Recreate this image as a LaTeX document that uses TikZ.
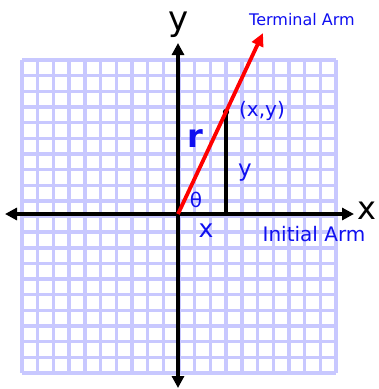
\documentclass[tikz,border=0pt]{standalone}
\usepackage{fontspec}
\setmainfont{DejaVu Sans}
\usetikzlibrary{arrows.meta}
\definecolor{gridblue}{RGB}{200,200,255}
\definecolor{labelblue}{RGB}{15,15,240}
\begin{document}
\begin{tikzpicture}[x=1pt,y=-1pt,
  axis/.style={line width=3.5pt,-{Triangle[length=12pt,width=12pt]}},
  arm/.style={line width=3.8pt,red,-{Triangle[length=13pt,width=12pt]}},
  lbl/.style={text=labelblue,inner sep=0pt}]
\useasboundingbox (0,0) rectangle (379,389);
% grid
\foreach \i in {0,...,20}{
  \draw[gridblue,line width=3.4pt] ({22+\i*15.7},60) -- ({22+\i*15.7},373);
  \draw[gridblue,line width=3.4pt] (22,{60+\i*15.65}) -- (336,{60+\i*15.65});
}
\coordinate (O) at (178,214);
\coordinate (xl) at (5,214);
\coordinate (xr) at (354,214);
\coordinate (yt) at (178,43);
\coordinate (yb) at (178,388);
\coordinate (T) at (263,33);
\coordinate (P) at (226,112);
\coordinate (F) at (226,214);
% axes
\draw[axis] (O) -- (xr);
\draw[axis] (O) -- (xl);
\draw[axis] (O) -- (yt);
\draw[axis] (O) -- (yb);
% vertical y segment
\draw[line width=3.5pt] (P) -- (F);
\fill (P) circle (3.2pt);
% terminal arm
\draw[arm] (O) -- (T);
% labels
\node[inner sep=0pt] (ylab) at (179,25) {\fontsize{34}{34}\selectfont y};
\node[inner sep=0pt] (xlab) at (367,211) {\fontsize{32}{32}\selectfont x};
\node[lbl] (term) at (302,20) {\fontsize{16}{16}\selectfont Terminal Arm};
\node[lbl] (pt) at (262,111) {\fontsize{20}{20}\selectfont (x,y)};
\node[lbl] (r) at (195,139) {\fontsize{32}{32}\selectfont\bfseries r};
\node[lbl] (th) at (196,200) {\fontsize{20}{20}\selectfont θ};
\node[lbl] (yv) at (245,173) {\fontsize{23}{23}\selectfont y};
\node[lbl] (xv) at (206,231) {\fontsize{25}{25}\selectfont x};
\node[lbl] (init) at (314,234) {\fontsize{20}{20}\selectfont Initial Arm};
\end{tikzpicture}
\end{document}
